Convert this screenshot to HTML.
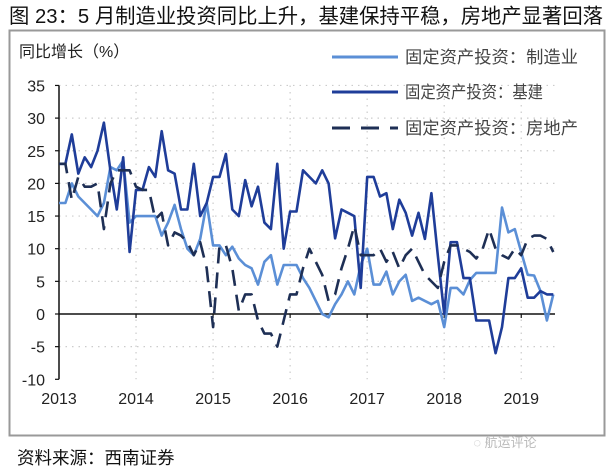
<!DOCTYPE html>
<html><head><meta charset="utf-8"><style>
body{margin:0;width:615px;height:469px;background:#fff;overflow:hidden;font-family:"Liberation Sans","Noto Sans CJK SC",sans-serif;}
svg text{font-family:"Liberation Sans","Noto Sans CJK SC",sans-serif;}
</style></head><body>
<svg id="chart" width="615" height="469">
<text x="9" y="23" font-size="20.5" fill="#111" textLength="594" lengthAdjust="spacingAndGlyphs">图 23：5 月制造业投资同比上升，基建保持平稳，房地产显著回落</text>
<rect x="9.5" y="30.5" width="595" height="405" fill="none" stroke="#999" stroke-width="2"/>
<text x="19" y="57" font-size="16" fill="#222">同比增长（%）</text>
<g id="grid"></g>
<g id="axes"></g>
<g id="series"></g>
<g>
<line x1="332" y1="57" x2="398" y2="57" stroke="#5b8fd6" stroke-width="3"/>
<text x="405" y="63" font-size="17" fill="#444" textLength="173" lengthAdjust="spacingAndGlyphs">固定资产投资：制造业</text>
<line x1="332" y1="92" x2="398" y2="92" stroke="#1f3d99" stroke-width="3"/>
<text x="405" y="98" font-size="17" fill="#444" textLength="138" lengthAdjust="spacingAndGlyphs">固定资产投资：基建</text>
<line x1="332" y1="128" x2="398" y2="128" stroke="#1e2f55" stroke-width="3" stroke-dasharray="18,11"/>
<text x="405" y="134" font-size="17" fill="#444" textLength="173" lengthAdjust="spacingAndGlyphs">固定资产投资：房地产</text>
</g>
<text x="17" y="464" font-size="17.5" fill="#111">资料来源：西南证券</text>
<text x="505" y="447" font-size="13" fill="#bbb" text-anchor="middle">◌ 航运评论</text>
</svg>
<script>
const years=["2013","2014","2015","2016","2017","2018","2019"];
const yTicks=[35,30,25,20,15,10,5,0,-5,-10];
const manufacturing=[17,17,20,18,17,16,15,17,22.5,22,23.5,14,15,15,15,15,12,14,16.7,13,10,9,11.5,17,10.5,10.5,9,10.3,8.5,7.5,7,4.5,8,9,4.5,7.5,7.5,7.5,5.5,4,2,0,-0.5,1.5,3,5,3,7.5,10,4.5,4.5,6.5,3,5,6,2,2.5,2,1.5,2,-2,4,4,3,5.2,6.3,6.3,6.3,6.3,16.3,12.5,13,9.5,6,5.9,3.5,-1,3];
const infrastructure=[23,23,27.5,21.5,24,22.5,25,29.3,22,16,24,9.5,19,19,22.5,21,28,22,21.5,16,16,23,15,17,21,21,24.5,16,15,20.5,16.5,19.5,14,13,23,10,15.7,15.7,22,21,20,22,20,11.6,16,15.5,15,4,21,21,18,18.5,13,17.5,15.5,12,15.5,11.5,18.5,9,0,11,11,5.5,5.5,-1,-1,-1,-6,-2,5.5,5.5,7,2.5,2.5,3.5,3,3];
const realEstate=[23,23,17.5,21,19.5,19.5,20,13,20,22,22,22,19.5,19,19,14.5,15.5,10.5,12.5,12,11,9,11,7,-2,10.5,10.5,7,0.5,3,3,-1,-3,-3,-5,-1,3,3,7,10,8,6,2,3,7,10,13.5,9,9,9,10,8,9.5,7,9,10,8,6,5,4,8,10.5,10.5,10,9.5,8.5,10,13,10,9,8.5,10,9,11.5,12,12,11.5,9.5];
const X0=59,X1=555,MX=6.42;
const yPix=v=>314-v*6.53;
const xIdx=i=>X0+i*MX;
const xYear=k=>X0+k*12*MX;
const NS="http://www.w3.org/2000/svg";
function mk(tag,parent,attrs){const e=document.createElementNS(NS,tag);for(const k in attrs)e.setAttribute(k,attrs[k]);parent.appendChild(e);return e;}
const grid=document.getElementById('grid'),axes=document.getElementById('axes'),ser=document.getElementById('series');
yTicks.forEach(v=>{
 if(v!==0 && v!==-10){const g=mk('line',grid,{x1:X0,x2:X1,y1:yPix(v),y2:yPix(v),stroke:'#ccc','stroke-width':1.2,'stroke-dasharray':'1.5,5'});
 
 }
 const t=mk('text',axes,{x:45,y:yPix(v)+6,'font-size':16,'text-anchor':'end',fill:'#222'});t.textContent=v;
 
 
 const tk=mk('line',axes,{x1:X0-4,x2:X0,y1:yPix(v),y2:yPix(v),stroke:'#111','stroke-width':1.2});
 
 
});
years.forEach((y,k)=>{
 const x=xYear(k);
 if(k>0){const g=mk('line',grid,{x1:x,x2:x,y1:yPix(35),y2:yPix(-10),stroke:'#ccc','stroke-width':1.2,'stroke-dasharray':'1.5,5'});
 
 
 const tk=mk('line',axes,{x1:x,x2:x,y1:yPix(0),y2:yPix(0)+4,stroke:'#111','stroke-width':1.2});
 
 }
 const t=mk('text',axes,{x:x,y:404,'font-size':16,'text-anchor':'middle',fill:'#222'});t.textContent=y;
 
 
});
const ya=mk('line',axes,{x1:X0,x2:X0,y1:yPix(35),y2:yPix(-10),stroke:'#111','stroke-width':1.5});


const xa=mk('line',axes,{x1:X0,x2:X1,y1:yPix(0),y2:yPix(0),stroke:'#111','stroke-width':1.5});


function pts(a){return a.map((v,i)=>xIdx(i).toFixed(1)+','+yPix(v).toFixed(1)).join(' ');}
const l1=mk('polyline',ser,{points:pts(manufacturing),fill:'none',stroke:'#5b8fd6','stroke-width':2.6,'stroke-linejoin':'round'});


const l2=mk('polyline',ser,{points:pts(infrastructure),fill:'none',stroke:'#1f3d99','stroke-width':2.6,'stroke-linejoin':'round'});


const l3=mk('polyline',ser,{points:pts(realEstate),fill:'none',stroke:'#1e2f55','stroke-width':2.6,'stroke-dasharray':'16,9','stroke-linejoin':'round'});


</script>
</body></html>
